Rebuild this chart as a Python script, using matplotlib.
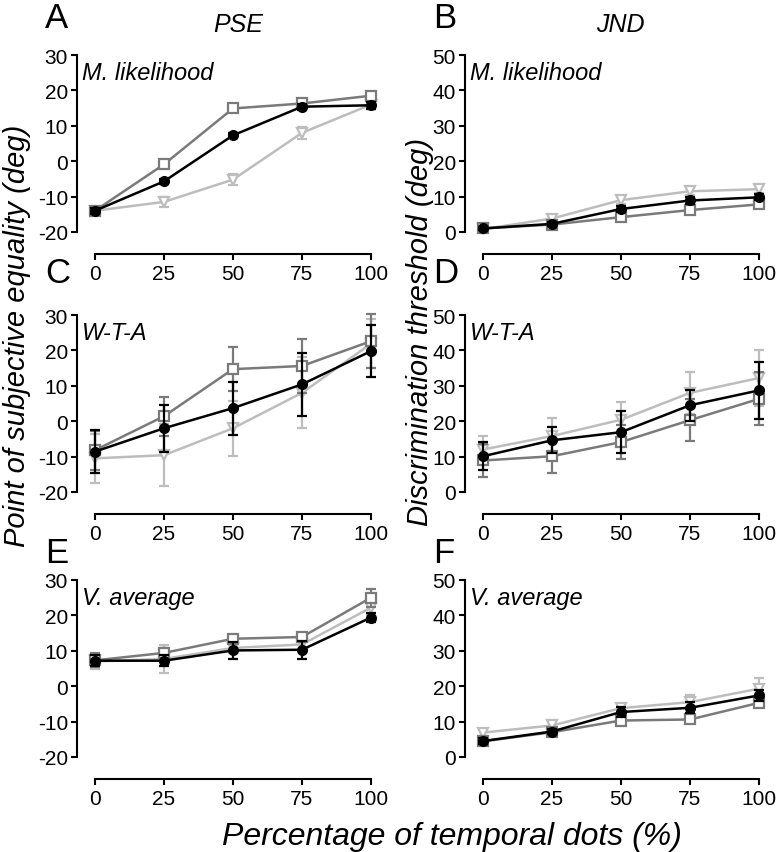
import matplotlib
matplotlib.use("Agg")
import matplotlib.pyplot as plt

matplotlib.rcParams.update({"font.family": ["Liberation Sans", "DejaVu Sans"],
                            "axes.linewidth": 1.5,
                            "axes.unicode_minus": False})

pct = [0, 25, 50, 75, 100]

# PSE, maximum likelihood
ml_pse_black = [-14, -5.7, 7.3, 15.4, 15.8]
ml_pse_black_err = [0.8, 0.8, 0.8, 0.8, 1.0]
ml_pse_dark = [-14, -0.9, 14.9, 16.3, 18.5]
ml_pse_dark_err = [0.7, 0.7, 0.7, 0.7, 0.7]
ml_pse_light = [-14, -11.5, -5.2, 8.0, 16.0]
ml_pse_light_err = [0.8, 1.3, 1.6, 1.6, 1.0]

# JND, maximum likelihood
ml_jnd_black = [1.0, 2.3, 6.5, 8.9, 9.8]
ml_jnd_black_err = [0.4, 0.5, 0.8, 0.9, 0.9]
ml_jnd_dark = [1.0, 2.1, 4.2, 6.2, 7.8]
ml_jnd_dark_err = [0.4, 0.5, 0.8, 0.8, 0.8]
ml_jnd_light = [0.8, 3.8, 9.0, 11.5, 12.1]
ml_jnd_light_err = [0.4, 0.7, 1.0, 1.0, 1.2]

# PSE, winner-take-all
wta_pse_black = [-8.6, -2.0, 3.7, 10.4, 19.8]
wta_pse_black_err = [6.0, 6.6, 7.5, 9.0, 7.4]
wta_pse_dark = [-8.2, 1.4, 14.7, 15.6, 22.6]
wta_pse_dark_err = [5.5, 5.5, 6.3, 7.5, 7.6]
wta_pse_light = [-10.5, -9.6, -2.0, 8.0, 21.9]
wta_pse_light_err = [7.0, 8.8, 7.8, 10.0, 7.0]

# JND, winner-take-all
wta_jnd_black = [10.1, 14.6, 16.9, 24.5, 28.7]
wta_jnd_black_err = [3.9, 3.7, 6.0, 4.4, 8.0]
wta_jnd_dark = [8.9, 10.1, 14.1, 20.3, 26.3]
wta_jnd_dark_err = [4.7, 4.8, 4.7, 6.0, 7.5]
wta_jnd_light = [12.0, 15.8, 20.4, 28.0, 32.2]
wta_jnd_light_err = [3.8, 5.0, 5.0, 6.0, 8.0]

# PSE, vector average
va_pse_black = [7.2, 7.2, 10.1, 10.3, 19.4]
va_pse_black_err = [1.5, 1.5, 2.5, 2.5, 1.3]
va_pse_dark = [7.3, 9.4, 13.4, 13.9, 25.0]
va_pse_dark_err = [2.0, 1.5, 1.0, 1.0, 2.5]
va_pse_light = [7.0, 7.7, 10.8, 11.8, 22.2]
va_pse_light_err = [2.0, 4.0, 1.5, 1.5, 2.0]

# JND, vector average
va_jnd_black = [4.5, 7.2, 12.7, 13.9, 17.4]
va_jnd_black_err = [0.8, 0.8, 1.5, 1.5, 1.5]
va_jnd_dark = [4.4, 7.0, 10.3, 10.6, 15.3]
va_jnd_dark_err = [0.8, 0.8, 1.0, 1.0, 1.0]
va_jnd_light = [6.9, 8.9, 13.8, 15.5, 19.3]
va_jnd_light_err = [1.0, 1.0, 1.0, 2.0, 3.0]

panels = [
    ("A", "M. likelihood", "pse", ml_pse_black, ml_pse_black_err, ml_pse_dark, ml_pse_dark_err, ml_pse_light, ml_pse_light_err),
    ("B", "M. likelihood", "jnd", ml_jnd_black, ml_jnd_black_err, ml_jnd_dark, ml_jnd_dark_err, ml_jnd_light, ml_jnd_light_err),
    ("C", "W-T-A", "pse", wta_pse_black, wta_pse_black_err, wta_pse_dark, wta_pse_dark_err, wta_pse_light, wta_pse_light_err),
    ("D", "W-T-A", "jnd", wta_jnd_black, wta_jnd_black_err, wta_jnd_dark, wta_jnd_dark_err, wta_jnd_light, wta_jnd_light_err),
    ("E", "V. average", "pse", va_pse_black, va_pse_black_err, va_pse_dark, va_pse_dark_err, va_pse_light, va_pse_light_err),
    ("F", "V. average", "jnd", va_jnd_black, va_jnd_black_err, va_jnd_dark, va_jnd_dark_err, va_jnd_light, va_jnd_light_err),
]

W = 776.0
H = 853.0
fig = plt.figure(figsize=(W / 100, H / 100), dpi=100)

lefts = [77, 465]
tops = [56, 316, 581]
ax_w = 299.5
ax_h = 177

dark = "#7a7a7a"
light = "#bdbdbd"

for k, p in enumerate(panels):
    letter, model, kind, yb, eb, yd, ed, yl, el = p
    row = k // 2
    col = k % 2
    ax = fig.add_axes([lefts[col] / W, 1 - (tops[row] + ax_h) / H, ax_w / W, ax_h / H])

    ax.errorbar(pct, yl, yerr=el, color=light, lw=1.8, marker="v", ms=7, mfc="white",
                mec=light, mew=1.6, capsize=3.5, capthick=1.6, elinewidth=1.6, clip_on=False, zorder=3)
    ax.errorbar(pct, yd, yerr=ed, color=dark, lw=1.8, marker="s", ms=6.5, mfc="white",
                mec=dark, mew=1.6, capsize=3.5, capthick=1.6, elinewidth=1.6, clip_on=False, zorder=4)
    ax.errorbar(pct, yb, yerr=eb, color="black", lw=1.8, marker="o", ms=7,
                capsize=3.5, capthick=1.6, elinewidth=1.6, clip_on=False, zorder=5)

    ax.set_xlim(-6.5, 102)
    if kind == "pse":
        ax.set_ylim(-20, 30)
        ax.set_yticks([-20, -10, 0, 10, 20, 30])
    else:
        ax.set_ylim(0, 50)
        ax.set_yticks([0, 10, 20, 30, 40, 50])
    ax.set_xticks(pct)

    ax.spines["top"].set_visible(False)
    ax.spines["right"].set_visible(False)
    ax.spines["bottom"].set_position(("outward", 15.5))
    ax.spines["bottom"].set_bounds(0, 100)
    ax.tick_params(direction="out", length=4.5, width=1.5, labelsize=15)
    ax.tick_params(axis="y", pad=2)
    ax.tick_params(axis="x", pad=3)
    ax.patch.set_visible(False)

    ax.text(0.017, 0.862, model, transform=ax.transAxes, fontsize=17, style="italic",
            va="baseline", ha="left")

    fig.text((lefts[col] - 32) / W, 1 - [28, 283, 563][row] / H, letter, fontsize=25,
             va="baseline", ha="left")

fig.text(238 / W, 1 - 32 / H, "PSE", fontsize=18, style="italic", ha="center", va="baseline")
fig.text(620 / W, 1 - 32 / H, "JND", fontsize=18, style="italic", ha="center", va="baseline")

fig.text(17 / W, 1 - 336 / H, "Point of subjective equality (deg)", fontsize=21, style="italic",
         rotation=90, ha="center", va="center")
fig.text(420 / W, 1 - 332 / H, "Discrimination threshold (deg)", fontsize=21, style="italic",
         rotation=90, ha="center", va="center")
fig.text(452 / W, 1 - 845 / H, "Percentage of temporal dots (%)", fontsize=23, style="italic",
         ha="center", va="baseline")

plt.savefig("out.png", dpi=100)
plt.close()
